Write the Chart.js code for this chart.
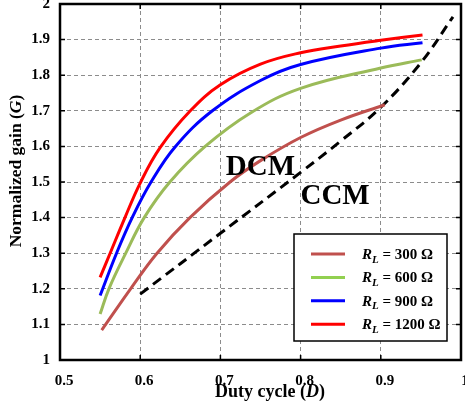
<!DOCTYPE html>
<html>
<head>
<meta charset="utf-8">
<script src="https://cdn.jsdelivr.net/npm/chart.js@4.4.0/dist/chart.umd.min.js"></script>
<style>
html, body { margin: 0; padding: 0; background: #fff; }
</style>
</head>
<body>
<canvas id="myChart" width="465" height="419"></canvas>
<script>
// load resistances (ohm)
var loads = [300, 600, 900, 1200];

// DCM curves
var duty300 = [0.552, 0.588, 0.621, 0.662, 0.712, 0.75, 0.8, 0.85, 0.905];
var gain300 = [1.084, 1.2, 1.3, 1.4, 1.5, 1.56, 1.625, 1.674, 1.717];

var duty600 = [0.55, 0.561, 0.582, 0.605, 0.637, 0.681, 0.7375, 0.8, 0.9, 0.951];
var gain600 = [1.129, 1.2, 1.3, 1.4, 1.5, 1.6, 1.694, 1.763, 1.82, 1.843];

var duty900 = [0.55, 0.5705, 0.59, 0.6135, 0.644, 0.69, 0.75, 0.8, 0.9, 0.952];
var gain900 = [1.181, 1.3, 1.4, 1.5, 1.6, 1.7, 1.785, 1.83, 1.876, 1.891];

var duty1200 = [0.55, 0.5625, 0.581, 0.6, 0.625, 0.6625, 0.7, 0.75, 0.8, 0.85, 0.9, 0.952];
var gain1200 = [1.232, 1.3, 1.4, 1.497, 1.597, 1.7, 1.773, 1.831, 1.863, 1.882, 1.898, 1.913];

// DCM / CCM boundary
var dutyBound = [0.6, 0.7, 0.8, 0.85, 0.9, 0.95, 0.99];
var gainBound = [1.185, 1.356, 1.527, 1.615, 1.71, 1.835, 1.964];

var xTicks = [0.5, 0.6, 0.7, 0.8, 0.9, 1];
var yTicks = [1, 1.1, 1.2, 1.3, 1.4, 1.5, 1.6, 1.7, 1.8, 1.9, 2];

var regionNames = ['DCM', 'CCM'];
var regionDuty = [0.75, 0.843];
var regionGain = [1.52, 1.438];

var curveColors = ['#C0504D', '#9BBB59', '#0000FF', '#FF0000'];
var swatchColors = ['#C0504D', '#92D050', '#0000FF', '#FF0000'];

var serif = '"Liberation Serif", "Times New Roman", serif';

function pts(xs, ys) {
    return xs.map(function (x, i) { return { x: x, y: ys[i] }; });
}

// draws a row of differently styled text pieces: [text, font, dy]
function drawRuns(ctx, runs, x, y, align) {
    var w = 0;
    runs.forEach(function (r) { ctx.font = r[1]; w += ctx.measureText(r[0]).width; });
    var cx = align === 'center' ? x - w / 2 : x;
    ctx.textAlign = 'left';
    runs.forEach(function (r) {
        ctx.font = r[1];
        ctx.fillText(r[0], cx, y + (r[2] || 0));
        cx += ctx.measureText(r[0]).width;
    });
}

var framePlugin = {
    id: 'frame',
    afterDraw: function (chart) {
        var ctx = chart.ctx, a = chart.chartArea;
        var xs = chart.scales.x, ys = chart.scales.y;
        ctx.save();

        // small inward tick marks
        ctx.strokeStyle = '#000';
        ctx.lineWidth = 1.5;
        ctx.beginPath();
        xTicks.forEach(function (v) {
            var px = xs.getPixelForValue(v);
            ctx.moveTo(px, a.bottom); ctx.lineTo(px, a.bottom - 5);
            ctx.moveTo(px, a.top); ctx.lineTo(px, a.top + 5);
        });
        yTicks.forEach(function (v) {
            var py = ys.getPixelForValue(v);
            ctx.moveTo(a.left, py); ctx.lineTo(a.left + 5, py);
            ctx.moveTo(a.right, py); ctx.lineTo(a.right - 5, py);
        });
        ctx.stroke();

        ctx.lineWidth = 2.5;
        ctx.strokeRect(a.left, a.top, a.right - a.left, a.bottom - a.top);

        // region labels
        ctx.fillStyle = '#000';
        ctx.textAlign = 'center';
        ctx.textBaseline = 'alphabetic';
        ctx.font = 'bold 29px ' + serif;
        regionNames.forEach(function (t, i) {
            ctx.fillText(t, xs.getPixelForValue(regionDuty[i]), ys.getPixelForValue(regionGain[i]));
        });

        // legend box
        var bw = 153, bh = 107;
        var bx = a.right - 14 - bw, by = a.bottom - 19 - bh;
        ctx.fillStyle = '#fff';
        ctx.fillRect(bx, by, bw, bh);
        ctx.strokeStyle = '#000';
        ctx.lineWidth = 1.5;
        ctx.strokeRect(bx, by, bw, bh);
        loads.forEach(function (r, i) {
            var ry = by + 20 + i * 23.4;
            ctx.strokeStyle = swatchColors[i];
            ctx.lineWidth = 3;
            ctx.beginPath();
            ctx.moveTo(bx + 17, ry);
            ctx.lineTo(bx + 51, ry);
            ctx.stroke();
            ctx.fillStyle = '#000';
            drawRuns(ctx, [
                ['R', 'italic bold 15px ' + serif],
                ['L', 'italic bold 11px ' + serif, 3.5],
                [' = ' + r + ' \u03A9', 'bold 15px ' + serif]
            ], bx + 68, ry + 5, 'left');
        });

        // axis titles
        ctx.fillStyle = '#000';
        drawRuns(ctx, [
            ['Duty cycle (', 'bold 18px ' + serif],
            ['D', 'italic bold 18px ' + serif],
            [')', 'bold 18px ' + serif]
        ], 270, 397, 'center');

        ctx.translate(21, 171);
        ctx.rotate(-Math.PI / 2);
        drawRuns(ctx, [
            ['Normalized gain (', 'bold 17.5px ' + serif],
            ['G', 'italic bold 17.5px ' + serif],
            [')', 'bold 17.5px ' + serif]
        ], 0, 0, 'center');

        ctx.restore();
    }
};

var datasets = loads.map(function (r, i) {
    var dx = [duty300, duty600, duty900, duty1200][i];
    var gy = [gain300, gain600, gain900, gain1200][i];
    return {
        label: 'RL = ' + r + ' \u03A9',
        data: pts(dx, gy),
        borderColor: curveColors[i],
        borderWidth: 3,
        showLine: true,
        pointRadius: 0,
        tension: 0.4
    };
});
datasets.push({
    label: 'boundary',
    data: pts(dutyBound, gainBound),
    borderColor: '#000',
    borderWidth: 3,
    borderDash: [10, 6],
    showLine: true,
    pointRadius: 0,
    tension: 0.4
});

function fmt(v) { return String(Number(v.toFixed(1))); }

var ctx = document.getElementById('myChart').getContext('2d');
var myChart = new Chart(ctx, {
    type: 'scatter',
    data: { datasets: datasets },
    plugins: [framePlugin],
    options: {
        responsive: false,
        animation: false,
        layout: { padding: { top: 4, right: 4, left: 0, bottom: 0 } },
        plugins: { legend: { display: false }, tooltip: { enabled: false } },
        scales: {
            x: {
                type: 'linear',
                min: 0.5, max: 1,
                afterBuildTicks: function (s) { s.ticks = xTicks.map(function (v) { return { value: v }; }); },
                afterFit: function (s) { s.height = 59; s.paddingLeft = 0; s.paddingRight = 0; },
                ticks: {
                    callback: fmt,
                    color: '#000',
                    padding: 12,
                    labelOffset: 4,
                    maxRotation: 0,
                    font: { family: serif, size: 15, weight: 'bold' }
                },
                grid: { color: '#8c8c8c', lineWidth: 1, drawTicks: false },
                border: { display: false, dash: [4, 3] }
            },
            y: {
                type: 'linear',
                min: 1, max: 2,
                afterBuildTicks: function (s) { s.ticks = yTicks.map(function (v) { return { value: v }; }); },
                afterFit: function (s) { s.width = 60; s.paddingTop = 0; s.paddingBottom = 0; },
                ticks: {
                    callback: fmt,
                    color: '#000',
                    padding: 10,
                    font: { family: serif, size: 15, weight: 'bold' }
                },
                grid: { color: '#8c8c8c', lineWidth: 1, drawTicks: false },
                border: { display: false, dash: [4, 3] }
            }
        }
    }
});
</script>
</body>
</html>
